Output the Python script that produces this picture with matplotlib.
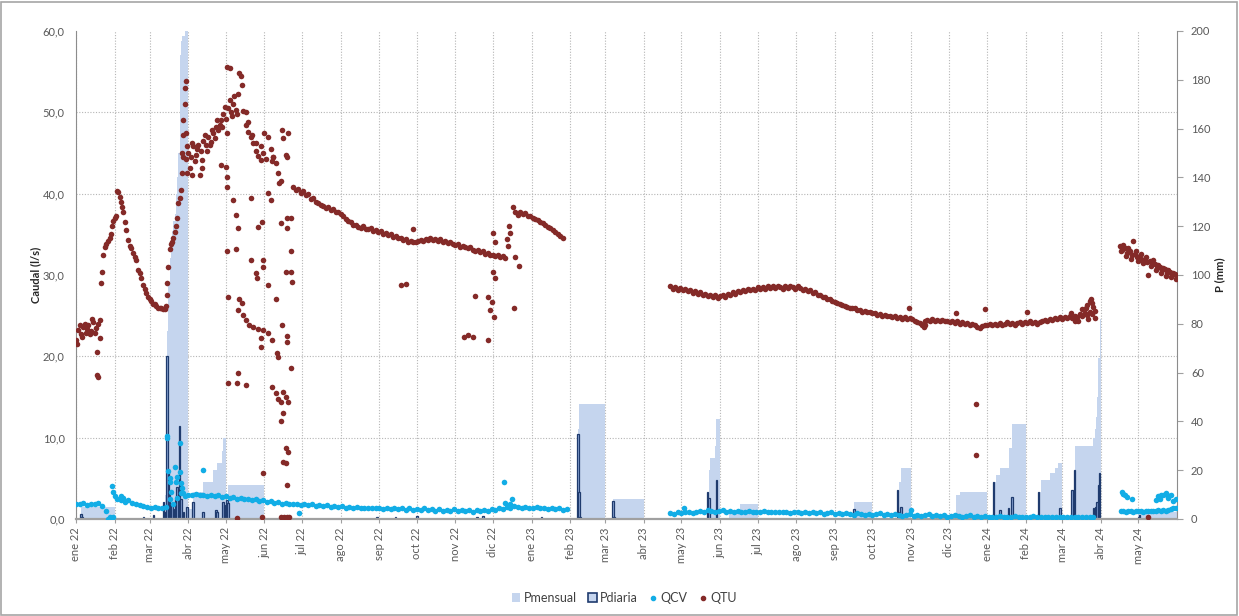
import numpy as np
import pandas as pd
import matplotlib
matplotlib.use("Agg")
import matplotlib.pyplot as plt
from matplotlib.patches import Patch, Rectangle
from matplotlib.lines import Line2D

plt.rcParams["font.family"] = ["Lato", "DejaVu Sans"]

# ------------------------------------------------------------------
# Data (days counted from the start of the record)
# ------------------------------------------------------------------
t0 = pd.Timestamp("2022-01-01")
t_end = pd.Timestamp("2024-06-01")

meses = ["ene", "feb", "mar", "abr", "may", "jun", "jul", "ago", "sep", "oct", "nov", "dic"]

# QTU, regular readings every 2 days
qtu_a_start = 0
qtu_a = [22.0, 23.2, 22.8, 23.6, 22.9, 23.9, 23.1, 24.2, 23.5, 24.0, 29.0, 32.5, 33.8, 34.2, 35.0,
         36.6, 37.3, 40.2, 39.0, 37.8, 35.5, 34.3, 33.3, 32.7, 31.8, 30.6, 29.6, 28.8, 27.8, 27.3,
         26.8, 26.4, 26.2, 26.0, 25.9, 25.8, 26.2, 31.0, 33.8, 34.6, 36.0, 38.8, 40.5, 44.5, 47.5,
         45.0, 44.5, 45.8, 44.8, 46.0, 45.3, 46.5, 46.0, 47.0, 46.4, 47.5, 48.2, 47.8, 49.0, 49.8,
         49.2, 50.5, 50.0, 51.0, 50.3, 52.2, 54.5, 50.2, 48.5, 47.6, 47.0, 46.2, 45.3, 44.6, 45.8,
         45.0, 44.3, 47.0, 45.5, 44.5, 43.8, 42.5, 41.5, 46.8, 44.8, 47.5, 37.0]
qtu_b_start = 174
qtu_b = [40.8, 40.4, 40.6, 40.1, 40.3, 39.8, 39.9, 39.4, 39.5, 39.0, 38.9, 38.6, 38.5, 38.2, 38.4,
         38.0, 38.1, 37.7, 37.8, 37.5, 37.2, 36.9, 36.6, 36.5, 36.2, 36.1, 35.9, 35.8, 36.0, 35.7,
         35.6, 35.8, 35.4, 35.5, 35.3, 35.4, 35.1, 35.2, 34.9, 35.0, 34.7, 34.8, 34.6, 34.5, 34.3,
         34.4, 34.1, 34.2, 34.0, 34.1, 34.2, 34.3, 34.2, 34.4, 34.3, 34.5, 34.3, 34.4, 34.2, 34.4,
         34.1, 34.2, 33.9, 34.0, 33.8, 33.7, 33.8, 33.5, 33.6, 33.4, 33.3, 33.4, 33.1, 33.0, 33.1,
         32.8, 32.9, 32.6, 32.7, 32.4, 32.5, 32.3, 32.4, 32.2, 32.3, 32.1, 33.6, 35.2, 38.3, 37.8,
         37.4, 37.7, 37.5, 37.6, 37.3, 37.2, 37.0, 36.9, 36.7, 36.5, 36.4, 36.1, 35.9, 35.8, 35.5,
         35.3, 35.0, 34.8, 34.6]
qtu_c_start = 476
qtu_c = [28.6, 28.3, 28.5, 28.2, 28.4, 28.1, 28.3, 28.0, 28.1, 27.8, 28.0, 27.7, 27.9, 27.6, 27.7,
         27.4, 27.6, 27.3, 27.5, 27.2, 27.4, 27.5, 27.3, 27.7, 27.6, 27.9, 27.7, 28.0, 27.9, 28.1,
         28.0, 28.3, 28.1, 28.3, 28.2, 28.5, 28.3, 28.5, 28.3, 28.6, 28.4, 28.6, 28.4, 28.7, 28.5,
         28.3, 28.6, 28.4, 28.7, 28.5, 28.3, 28.6, 28.4, 28.2, 28.3, 28.0, 28.1, 27.8, 27.9, 27.6,
         27.5, 27.3, 27.3, 27.1, 27.0, 26.8, 26.7, 26.5, 26.4, 26.3, 26.2, 26.1, 26.0, 25.9, 25.9,
         25.7, 25.7, 25.5, 25.6, 25.4, 25.4, 25.3, 25.3, 25.1, 25.2, 25.0, 25.1, 24.9, 25.0, 24.8,
         24.9, 24.7, 24.8, 24.6, 24.8, 24.6, 24.7, 24.6, 24.4, 24.2, 24.1, 23.8, 24.3, 24.5, 24.4,
         24.6, 24.4, 24.5, 24.3, 24.5, 24.3, 24.4, 24.2, 24.3, 24.1, 24.3, 24.0, 24.2, 24.0, 24.1,
         23.9, 24.0, 23.8, 23.6, 23.5, 23.7, 23.9, 23.8, 24.0, 23.8, 24.0, 23.9, 24.1, 23.9, 24.0,
         24.2, 24.0, 24.1, 23.9, 24.1, 24.2, 24.0, 24.2, 24.1, 24.3, 24.1, 24.2, 24.0, 24.2, 24.3,
         24.5, 24.4, 24.6, 24.5, 24.7, 24.6, 24.8, 24.6, 24.8, 24.7, 24.9, 24.7, 25.0, 24.8, 25.2,
         25.0, 25.3, 25.1, 25.5, 25.2, 25.6]
qtu_d_start = 836
qtu_d = [33.6, 33.1, 33.3, 32.7, 32.9, 32.4, 32.6, 32.2, 32.3, 31.9, 32.0, 31.6, 31.7, 31.3, 31.4,
         30.9, 31.0, 30.6, 30.7, 30.3, 30.4, 30.0, 30.1, 29.7]

# QTU, extra and scattered readings
qtu_x_day = [1, 3, 5, 7, 9, 11, 13, 15, 17, 17, 18, 19, 19, 21, 23, 27, 29, 31, 33, 35, 37, 39, 43,
             47, 51, 55, 59, 63, 67, 71, 73, 73, 75, 77, 79, 81, 83, 85, 85, 86, 86, 87, 87, 88, 88,
             89, 89,
             91, 93, 93, 95, 97, 99, 101, 101, 103, 105, 107, 109, 111, 113, 115, 116, 117, 119, 121,
             121, 123, 123, 125, 127, 129, 131, 133,
             120, 121, 121, 126, 128, 130, 121, 128, 140, 140, 144, 145, 146, 149, 150, 150, 154,
             156, 154, 164, 169, 169, 172, 168, 172, 173,
             122, 131, 133, 130, 134, 136, 139, 142, 146, 150, 148, 148, 154, 157, 161, 162, 160,
             165, 169, 169, 172, 122, 129, 130, 136, 157, 160, 162, 164, 166, 168, 170, 164, 166,
             168, 170, 166, 168, 169, 150, 129, 149, 164, 167, 169, 171,
             136, 138, 141, 144, 148, 151, 157, 158, 163, 165, 169,
             270, 260, 264, 311, 314, 318, 320, 330, 333, 330, 332, 335, 334, 336, 334, 336, 345,
             347, 352, 355, 351,
             667, 705, 728, 762, 721, 721, 679, 680, 810, 812, 813, 814, 815, 809, 806, 811, 816,
             803, 800, 797,
             837, 839, 841, 843, 845, 847, 849, 851, 853, 855, 857, 859, 861, 863, 865, 867, 869,
             871, 873, 875, 877, 879, 881, 859]
qtu_x_val = [21.5, 23.8, 22.4, 24.0, 23.4, 22.7, 24.6, 22.9, 20.5, 17.7, 17.4, 24.5, 22.3, 30.4, 33.4,
             34.6, 36.0, 37.0, 40.3, 39.6, 38.4, 36.5, 33.6, 32.2, 30.2, 28.3, 27.0, 26.4, 26.0, 25.8,
             27.5, 29.0, 33.2, 34.0, 35.3, 37.0, 39.5, 42.5, 45.0, 47.2, 49.0, 51.0, 53.0, 53.8, 44.2,
             42.6, 45.8,
             43.2, 46.2, 42.3, 44.0, 45.5, 42.3, 44.1, 43.2, 47.2, 45.2, 46.0, 47.8, 46.8, 49.0, 48.5,
             43.5, 48.2, 50.6, 47.5, 55.6, 55.5, 51.5, 49.5, 52.0, 49.8, 54.8, 53.4,
             43.3, 42.0, 40.8, 39.2, 37.4, 35.8, 33.0, 33.2, 31.8, 39.5, 30.2, 29.6, 35.9, 36.5, 31.8,
             31.0, 40.1, 39.2, 28.8, 36.4, 37.0, 35.8, 33.0, 30.4, 30.4, 29.1,
             27.3, 27.0, 26.6, 25.7, 25.1, 24.5, 23.8, 23.6, 23.4, 23.2, 22.3, 21.2, 22.9, 22.0, 20.4,
             19.9, 27.0, 23.8, 22.5, 21.8, 18.6, 16.7, 16.7, 17.9, 16.5, 16.2, 15.5, 14.8, 14.4, 15.6,
             15.0, 14.4, 12.0, 13.0, 8.7, 8.2, 7.0, 6.9, 4.2, 5.7, 0.1, 0.3, 0.3, 0.3, 0.3, 0.3,
             50.0, 48.8, 47.2, 46.2, 44.1, 47.4, 44.0, 44.5, 41.3, 47.8, 44.5,
             35.7, 28.8, 28.9, 22.4, 22.6, 22.4, 27.4, 27.3, 26.7, 22.0, 25.7, 24.8, 30.4, 29.6, 35.2,
             34.0, 34.4, 36.0, 32.2, 31.1, 25.9,
             25.9, 25.3, 25.8, 25.4, 14.1, 7.9, 23.6, 23.9, 26.3, 26.8, 27.0, 26.5, 26.1, 25.9, 25.8,
             24.6, 24.7, 24.3, 24.3, 25.3,
             32.9, 33.7, 32.3, 33.3, 32.0, 34.2, 32.9, 31.7, 32.6, 31.5, 32.2, 30.0, 31.1, 31.8, 30.6,
             31.2, 30.2, 30.9, 29.9, 30.6, 29.8, 30.2, 29.5, 0.2]

# QCV, regular readings
qcv_a_start = 0
qcv_a = [1.9, 1.8, 2.0, 1.7, 1.9, 1.8, 2.0, 1.6, 1.0, 0.2, 0.3, 2.4, 2.3, 2.1, 2.3, 2.0, 1.8, 1.7,
         1.6, 1.5, 1.4, 1.5, 1.3, 1.4, 1.5, 2.4, 1.9, 2.6, 3.2, 2.8, 3.0, 2.9, 3.1, 2.9, 3.0, 2.8,
         2.9, 2.8, 2.9, 2.7, 2.8, 2.6, 2.7, 2.5, 2.6, 2.4, 2.5, 2.3, 2.4, 2.2, 2.3, 2.1, 2.2, 2.0,
         2.1, 1.9, 2.0, 1.9, 1.8, 1.9, 1.7, 1.8, 1.7, 1.8, 1.6, 1.7, 1.6, 1.7, 1.5, 1.6, 1.5, 1.6,
         1.4, 1.5, 1.4, 1.5, 1.3, 1.4, 1.3, 1.4, 1.3, 1.4, 1.2, 1.3, 1.2, 1.4, 1.2, 1.3, 1.1, 1.3,
         1.1, 1.2, 1.1, 1.3, 1.1, 1.2, 1.0, 1.2, 1.0, 1.1, 1.0, 1.2, 1.0, 1.1, 1.0, 1.1, 0.9, 1.1,
         1.0, 1.1, 1.0, 1.2, 1.1, 1.3, 1.2, 1.5, 1.4, 1.6, 1.5, 1.4, 1.5, 1.4, 1.3, 1.5, 1.3, 1.4,
         1.2, 1.4, 1.2, 1.3, 1.1, 1.2]
qcv_b_start = 476
qcv_b = [0.7, 0.6, 0.8, 0.7, 0.9, 0.8, 0.7, 0.9, 1.0, 0.9, 1.1, 1.0, 0.9, 1.0, 1.1, 0.9, 1.0, 0.9,
         1.0, 0.8, 0.9, 1.0, 0.9, 0.8, 0.9, 1.0, 0.8, 0.9, 0.8, 0.9, 0.8, 0.9, 0.7, 0.8, 0.9, 0.7,
         0.8, 0.7, 0.8, 0.7, 0.8, 0.6, 0.7, 0.8, 0.6, 0.7, 0.6, 0.7, 0.6, 0.5, 0.7, 0.6, 0.5, 0.6,
         0.5, 0.6, 0.7, 0.5, 0.6, 0.5, 0.6, 0.5, 0.4, 0.5, 0.6, 0.4, 0.5, 0.4, 0.5, 0.6, 0.4, 0.5,
         0.4, 0.5, 0.3, 0.4, 0.5, 0.4, 0.3, 0.4, 0.5, 0.3, 0.4, 0.3, 0.4, 0.3, 0.2, 0.3, 0.4, 0.3,
         0.2, 0.3, 0.4, 0.2, 0.3, 0.2, 0.3, 0.4, 0.2, 0.3, 0.2, 0.3, 0.2, 0.3, 0.2, 0.3, 0.2, 0.3,
         0.2, 0.3, 0.2, 0.3, 0.2, 0.3]
qcv_c_start = 837
qcv_c = [1.0, 1.0, 0.9, 1.0, 1.0, 0.9, 1.0, 1.0, 1.0, 0.9, 1.0, 1.0, 1.0, 1.0, 1.0, 1.1, 1.0, 1.1,
         1.0, 1.1, 1.2, 1.3, 1.3]

qcv_x_day = [29, 30, 31, 26, 28, 36, 38, 73, 73, 74, 75, 75, 76, 79, 80, 81, 83, 83, 84, 85, 86,
             102, 179, 343, 344, 349, 348, 487, 669,
             838, 839, 840, 842, 846, 865, 867, 869, 871, 873, 875, 877, 879, 881, 868, 874]
qcv_x_val = [4.0, 3.3, 2.8, 0.0, 0.1, 2.8, 2.6, 10.2, 10.0, 5.9, 5.0, 4.6, 3.3, 6.4, 4.5, 5.2, 9.3,
             5.8, 4.4, 3.8, 3.2, 6.0, 0.7, 4.6, 2.0, 2.4, 1.9, 1.3, 1.1,
             3.3, 3.1, 3.0, 2.7, 2.4, 2.3, 2.8, 3.0, 2.9, 3.2, 2.6, 2.9, 2.2, 2.5, 2.5, 3.0]

# Daily rainfall (mm)
pd_fecha = ["2022-01-05", "2022-01-06", "2022-02-24", "2022-03-04", "2022-03-12", "2022-03-13",
            "2022-03-15", "2022-03-16", "2022-03-17", "2022-03-18", "2022-03-19", "2022-03-20",
            "2022-03-22", "2022-03-23", "2022-03-25", "2022-03-26", "2022-03-28", "2022-03-31",
            "2022-04-05", "2022-04-13", "2022-04-23", "2022-04-24", "2022-04-29", "2022-04-30",
            "2022-05-02", "2022-05-03", "2022-08-30", "2022-09-14", "2022-10-01", "2022-11-18",
            "2022-11-23", "2023-01-09", "2023-02-07", "2023-02-08", "2023-02-09", "2023-03-07",
            "2023-03-08", "2023-05-22", "2023-05-23", "2023-05-29", "2023-09-16", "2023-10-21",
            "2023-10-22", "2023-10-24", "2023-12-07", "2023-12-08", "2024-01-06", "2024-01-11",
            "2024-01-18", "2024-01-21", "2024-02-11", "2024-02-28", "2024-03-09", "2024-03-11",
            "2024-03-26", "2024-03-27", "2024-03-28", "2024-03-29", "2024-03-30", "2024-03-31",
            "2024-05-01", "2024-05-02"]
pd_mm = [2.0, 1.0, 1.0, 1.5, 7.0, 3.0, 67.0, 20.0, 10.0, 5.0, 6.0, 4.0, 8.0, 13.0, 38.0, 8.0, 3.0,
         5.0, 7.0, 3.0, 3.7, 3.0, 7.0, 5.7, 7.7, 6.7, 1.0, 1.0, 1.2, 1.0, 1.2, 1.0, 35.0, 11.0, 1.0,
         7.4, 0.8, 11.0, 8.6, 16.0, 4.0, 12.0, 3.0, 5.0, 2.0, 2.0, 15.0, 3.7, 4.5, 9.0, 11.0, 4.5,
         12.0, 20.0, 4.5, 3.5, 5.0, 7.0, 14.0, 19.0, 1.0, 1.5]

# Monthly accumulated rainfall (mm), level holds until the next date
pm_fecha = ["2022-01-01", "2022-01-05", "2022-02-01", "2022-03-12", "2022-03-13", "2022-03-15",
            "2022-03-16", "2022-03-17", "2022-03-18", "2022-03-19", "2022-03-20", "2022-03-21",
            "2022-03-22", "2022-03-23", "2022-03-24", "2022-03-25", "2022-03-26", "2022-03-27",
            "2022-03-29", "2022-04-01", "2022-04-05", "2022-04-13", "2022-04-21", "2022-04-24",
            "2022-04-28", "2022-04-29", "2022-05-01", "2022-05-03", "2022-06-01",
            "2023-02-07", "2023-02-08", "2023-03-01", "2023-03-07", "2023-04-01",
            "2023-05-22", "2023-05-23", "2023-05-24", "2023-05-28", "2023-05-29", "2023-06-01",
            "2023-06-08", "2023-06-17", "2023-07-01", "2023-09-16", "2023-10-01",
            "2023-10-21", "2023-10-22", "2023-10-24", "2023-11-01", "2023-12-07", "2023-12-10",
            "2024-01-01", "2024-01-06", "2024-01-08", "2024-01-11", "2024-01-18", "2024-01-21",
            "2024-02-01", "2024-02-11", "2024-02-13", "2024-02-20", "2024-02-24", "2024-02-27",
            "2024-03-01", "2024-03-09", "2024-03-11", "2024-03-26", "2024-03-27", "2024-03-28",
            "2024-03-29", "2024-03-30", "2024-03-31", "2024-04-01", "2024-05-01", "2024-05-02",
            "2024-06-01"]
pm_mm = [0, 5, 0, 7, 10, 77, 97, 107, 112, 118, 122, 125, 133, 140, 150, 190, 196, 198, 206, 4, 11,
         15, 20, 23, 28, 33, 0, 14, 0,
         37, 47, 0, 8, 0,
         11, 20, 25, 30, 41, 0, 2.5, 6, 0, 7, 0,
         12, 15, 21, 0, 10, 11,
         0, 15, 18, 21, 29, 39,
         0, 11, 16, 19, 21, 23,
         0, 12, 30, 33, 37, 42, 50, 66, 82, 0, 2, 3, 0]

q_max, p_max = 60, 200
q_ticks = [0, 10, 20, 30, 40, 50, 60]
p_ticks = list(range(0, 201, 20))

# ------------------------------------------------------------------
# Helpers
# ------------------------------------------------------------------
def day_to_date(days):
    return t0 + pd.to_timedelta(np.asarray(days, dtype=float), unit="D")


def series_dates(start, values, step):
    return day_to_date(start + step * np.arange(len(values)))


c_pmes = "#c5d5ee"
c_pdia = "#1f3b6e"
c_qcv = "#12ade6"
c_qtu = "#842a28"
c_grid = "#b5b5b5"
c_text = "#595959"
c_axis = "#a0a0a0"

# ------------------------------------------------------------------
# Figure
# ------------------------------------------------------------------
fig, axp = plt.subplots(figsize=(12.39, 6.16), dpi=100)
fig.subplots_adjust(left=0.0613, right=0.950, bottom=0.1575, top=0.9497)
axq = axp.twinx()

# Rainfall on the back axis (right scale)
axp.fill_between(pd.to_datetime(pm_fecha), pm_mm, step="post", color=c_pmes, lw=0, zorder=1)
axp.bar(pd.to_datetime(pd_fecha), pd_mm, width=1.3, color="#8fa9d8", edgecolor=c_pdia,
        linewidth=0.9, zorder=2)

# Flow on the front axis (left scale)
qcv_dates = [series_dates(qcv_a_start, qcv_a, 3), series_dates(qcv_b_start, qcv_b, 3),
             series_dates(qcv_c_start, qcv_c, 2), day_to_date(qcv_x_day)]
qcv_vals = [qcv_a, qcv_b, qcv_c, qcv_x_val]
for dd, vv in zip(qcv_dates, qcv_vals):
    axq.scatter(dd, vv, s=16, color=c_qcv, linewidths=0, zorder=3)

qtu_dates = [series_dates(qtu_a_start, qtu_a, 2), series_dates(qtu_b_start, qtu_b, 2),
             series_dates(qtu_c_start, qtu_c, 2), series_dates(qtu_d_start, qtu_d, 2),
             day_to_date(qtu_x_day)]
qtu_vals = [qtu_a, qtu_b, qtu_c, qtu_d, qtu_x_val]
for dd, vv in zip(qtu_dates, qtu_vals):
    axq.scatter(dd, vv, s=16, color=c_qtu, linewidths=0, zorder=4)

# Axes limits and ticks
axp.set_xlim(t0, t_end)
axp.set_ylim(0, p_max)
axq.set_ylim(0, q_max)

month_starts = pd.date_range(t0, "2024-05-01", freq="MS")
axp.set_xticks(month_starts)
axp.set_xticklabels([f"{meses[m.month - 1]} {m.year % 100:02d}" for m in month_starts],
                    rotation=90, fontsize=8, color=c_text)
axp.tick_params(axis="x", length=3, color=c_axis, pad=3)

axp.yaxis.tick_right()
axp.set_yticks(p_ticks)
axp.set_yticklabels([str(v) for v in p_ticks], fontsize=8, color=c_text)
axp.tick_params(axis="y", which="major", length=4, color=c_axis, pad=6)

axq.yaxis.tick_left()
axq.yaxis.set_label_position("left")
axq.set_yticks(q_ticks)
axq.set_yticklabels([f"{v:.1f}".replace(".", ",") for v in q_ticks], fontsize=8, color=c_text)
axq.tick_params(axis="y", length=0, pad=8)

# Grid behind the rainfall fill
axp.set_yticks([v * p_max / q_max for v in q_ticks], minor=True)
axp.tick_params(axis="y", which="minor", length=0)
axp.set_axisbelow(True)
axp.grid(axis="x", which="major", linestyle=(0, (1, 1.5)), color=c_grid, lw=0.8)
axp.grid(axis="y", which="minor", linestyle=(0, (1, 1.5)), color=c_grid, lw=0.8)

for sp in axp.spines.values():
    sp.set_visible(False)
axq.spines["top"].set_visible(False)
axq.spines["left"].set_color("#8c8c8c")
axq.spines["right"].set_color("#8c8c8c")
axq.spines["bottom"].set_color(c_axis)
axq.spines["bottom"].set_linewidth(1.6)

axq.set_ylabel("Caudal (l/s)", fontsize=8, fontweight="bold", color="#262626", labelpad=1)
axp.yaxis.set_label_position("right")
axp.set_ylabel("P (mm)", fontsize=8, fontweight="bold", color="#262626", labelpad=3,
               rotation=90)

# Legend
handles = [Patch(facecolor=c_pmes, edgecolor="none"),
           Patch(facecolor="#c5d5ee", edgecolor=c_pdia, linewidth=1.2),
           Line2D([], [], marker="o", ls="none", color=c_qcv, markersize=3),
           Line2D([], [], marker="o", ls="none", color=c_qtu, markersize=3)]
fig.legend(handles, ["Pmensual", "Pdiaria", "QCV", "QTU"], loc="center",
           bbox_to_anchor=(0.504, 0.029), ncol=4, frameon=False, fontsize=9,
           handlelength=0.7, handleheight=0.7, handletextpad=0.25, columnspacing=0.9,
           labelcolor="#404040")

fig.add_artist(Rectangle((0.001, 0.002), 0.997, 0.995, transform=fig.transFigure,
                         fill=False, ec="#a6a6a6", lw=1.2))

fig.savefig("out.png", dpi=100, facecolor="white")
